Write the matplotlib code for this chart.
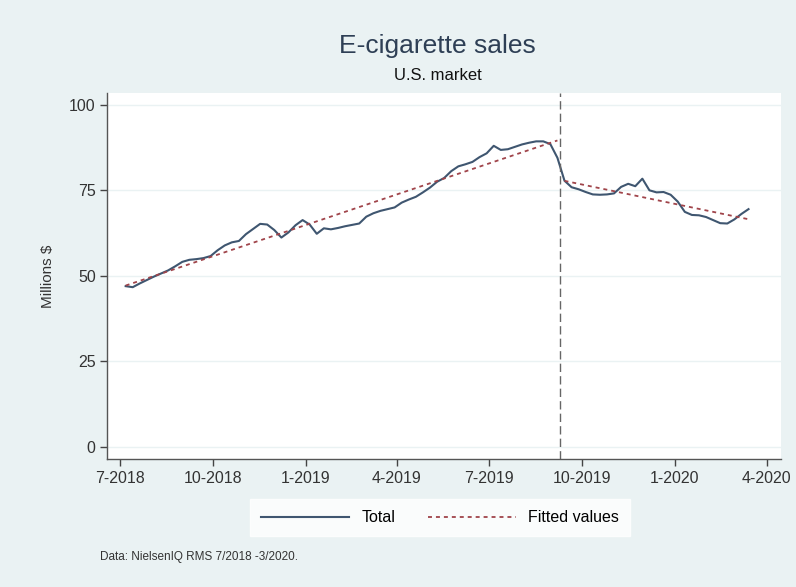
import matplotlib
matplotlib.use("Agg")
import matplotlib.pyplot as plt
import matplotlib.dates as mdates
import numpy as np
import pandas as pd

plt.rcParams['font.family'] = ['Liberation Sans', 'DejaVu Sans']

# weekly sales, millions of dollars
weeks = pd.date_range('2018-07-07', periods=89, freq='7D')
total = [47.0, 46.7, 47.8, 48.8, 49.8, 50.7, 51.6, 52.8, 54.1, 54.7,
         54.9, 55.2, 55.8, 57.5, 58.9, 59.8, 60.2, 62.2, 63.7, 65.2,
         65.0, 63.4, 61.2, 62.7, 64.8, 66.3, 65.0, 62.3, 63.9, 63.6,
         64.0, 64.5, 64.9, 65.3, 67.3, 68.3, 69.0, 69.5, 70.0, 71.4,
         72.3, 73.1, 74.4, 75.8, 77.5, 78.6, 80.6, 82.0, 82.6, 83.3,
         84.7, 85.8, 88.0, 86.8, 87.0, 87.7, 88.4, 88.9, 89.3, 89.3,
         88.5, 84.5, 77.8, 75.9, 75.3, 74.5, 73.8, 73.7, 73.8, 74.1,
         76.0, 76.9, 76.2, 78.4, 75.0, 74.4, 74.5, 73.7, 71.7, 68.7,
         67.8, 67.7, 67.2, 66.3, 65.4, 65.3, 66.5, 68.1, 69.5]
break_date = pd.Timestamp('2019-09-10')
tick_dates = pd.date_range('2018-07-01', '2020-04-01', freq='3MS')

df = pd.DataFrame({'week': weeks, 'total': total})
df['t'] = mdates.date2num(df['week'])

# linear fit before and after the break
df['fit'] = np.nan
for mask in [df['week'] < break_date, df['week'] >= break_date]:
    a, b = np.polyfit(df.loc[mask, 't'], df.loc[mask, 'total'], 1)
    df.loc[mask, 'fit'] = a * df.loc[mask, 't'] + b
pre = df['week'] < break_date

bg = '#EAF2F3'
fig = plt.figure(figsize=(7.96, 5.87), dpi=100, facecolor=bg)
ax = fig.add_axes([0.135, 0.218, 0.846, 0.624])
ax.set_facecolor('white')

ax.plot(df['week'], df['total'], color='#3F5670', linewidth=1.5, label='Total')
ax.plot(df.loc[pre, 'week'], df.loc[pre, 'fit'], color='#A0444A', linewidth=1.3,
        dashes=(2.2, 2.2), label='Fitted values')
ax.plot(df.loc[~pre, 'week'], df.loc[~pre, 'fit'], color='#A0444A', linewidth=1.3,
        dashes=(2.2, 2.2))
ax.axvline(break_date, color='#666666', linewidth=1.0, dashes=(6, 3))

ax.set_xlim(pd.Timestamp('2018-06-19'), pd.Timestamp('2020-04-15'))
ax.set_ylim(-3.5, 103.5)
ax.set_yticks([0, 25, 50, 75, 100])
ax.set_xticks(tick_dates)
ax.set_xticklabels([f'{d.month}-{d.year}' for d in tick_dates])
ax.grid(axis='y', color=bg, linewidth=1.0)
ax.set_axisbelow(True)
for s in ['top', 'right']:
    ax.spines[s].set_visible(False)
for s in ['left', 'bottom']:
    ax.spines[s].set_color('#555555')
    ax.spines[s].set_linewidth(1.0)
ax.tick_params(colors='#444444', labelsize=11.5, length=5, width=1.0, labelcolor='#333333')
ax.set_ylabel('Millions $', fontsize=11, color='#333333', labelpad=10)

fig.text(0.55, 0.922, 'E-cigarette sales', ha='center', va='center', fontsize=19, color='#2E3F55')
fig.text(0.55, 0.872, 'U.S. market', ha='center', va='center', fontsize=12, color='#111111')

fig.legend(loc='center', bbox_to_anchor=(0.553, 0.118), ncol=2, frameon=True,
           facecolor='white', edgecolor='white', fancybox=False, fontsize=11.5,
           handlelength=5.5, columnspacing=2.0, borderpad=0.7)
fig.text(0.126, 0.046, 'Data: NielsenIQ RMS 7/2018 -3/2020.', fontsize=8.5, color='#333333')

fig.savefig('out.png', dpi=100, facecolor=bg)
